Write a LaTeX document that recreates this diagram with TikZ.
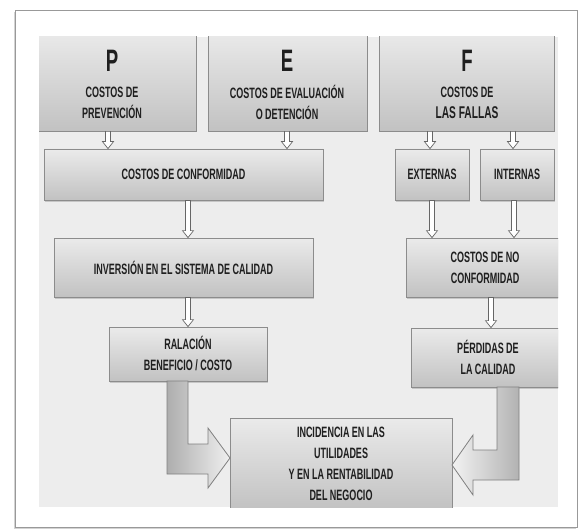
\documentclass[tikz,border=0pt]{standalone}
\usepackage{fontspec}
\newfontfamily\nar[FakeStretch=0.6]{Liberation Sans}
\usetikzlibrary{shadows,calc}
\newcommand\hollowarrow[3]{%
  \draw[hollow] let \p1=(#1,0 |- #2.south), \p2=(#1,0 |- #3.north) in
    (\x1-2.5pt,\y1) -- (\x1-2.5pt,\y2+7pt) -- (\x1-5.5pt,\y2+7pt) -- (\x1,\y2)
    -- (\x1+5.5pt,\y2+7pt) -- (\x1+2.5pt,\y2+7pt) -- (\x1+2.5pt,\y1) -- cycle;}
\begin{document}
\begin{tikzpicture}[x=1pt,y=-1pt,
  txt/.style={font=\nar\bfseries\fontsize{15}{21}\selectfont, text=black!88, align=center, inner sep=0pt},
  big/.style={font=\nar\bfseries\fontsize{31}{31}\selectfont, text=black!88, inner sep=0pt},
  box/.style={txt, draw=black!45, line width=0.8pt, top color=black!8, bottom color=black!24,
    drop shadow={shadow xshift=0.8pt, shadow yshift=-1.5pt, opacity=0.35}},
  hollow/.style={fill=white, draw=black!60, line width=0.7pt, line join=miter},
  bigarrow/.style={draw=black!50, line width=0.8pt, line join=miter}]
\useasboundingbox (0,0) rectangle (581,532);
\draw[draw=black!40, line width=1pt, fill=white,
  drop shadow={shadow xshift=-1.2pt, shadow yshift=-1.5pt, opacity=0.35}] (15,11) rectangle (577,527);
\fill[black!7] (39,37) rectangle (558,507);
\begin{scope}
\clip (39,37) rectangle (558,507);
% top boxes
\node[box, minimum width=161pt, minimum height=101pt] (P) at (115.5,80.5) {};
\node[box, minimum width=159pt, minimum height=101pt] (E) at (287.5,80.5) {};
\node[box, minimum width=175pt, minimum height=101pt] (F) at (466.5,80.5) {};
\node[big] (Pt) at (112,61) {P};
\node[txt] (Pd) at (112,102.5) {COSTOS DE\\PREVENCIÓN};
\node[big] (Et) at (287,61) {E};
\node[txt] (Ed) at (287,102.5) {COSTOS DE EVALUACIÓN\\O DETENCIÓN};
\node[big] (Ft) at (467,61) {F};
\node[txt] (Fd) at (467,102.5) {COSTOS DE\\{\fontsize{17}{21}\selectfont LAS FALLAS}};
% second row
\node[box, minimum width=279pt, minimum height=51pt] (C) at (183.5,174.5) {COSTOS DE CONFORMIDAD};
\node[box, minimum width=74pt, minimum height=51pt] (Ext) at (432,174.5) {EXTERNAS};
\node[box, minimum width=74pt, minimum height=51pt] (Int) at (517,174.5) {INTERNAS};
% third row
\node[box, minimum width=259pt, minimum height=59pt] (Inv) at (183.5,267.5) {INVERSIÓN EN EL SISTEMA DE CALIDAD};
\node[box, minimum width=158pt, minimum height=59pt] (NoC) at (485,267.5) {COSTOS DE NO\\CONFORMIDAD};
% fourth row
\node[box, minimum width=158pt, minimum height=54pt] (Ral) at (188,354) {RALACIÓN\\BENEFICIO / COSTO};
\node[box, minimum width=154pt, minimum height=59pt] (Per) at (488,357.5) {PÉRDIDAS DE\\LA CALIDAD};
% bottom
\node[box, minimum width=222pt, minimum height=91pt] (Inc) at (341,463.5)
  {INCIDENCIA EN LAS\\UTILIDADES\\Y EN LA RENTABILIDAD\\DEL NEGOCIO};
% small hollow arrows
\hollowarrow{108}{P}{C}
\hollowarrow{287}{E}{C}
\hollowarrow{430}{F}{Ext}
\hollowarrow{513}{F}{Int}
\hollowarrow{188}{C}{Inv}
\hollowarrow{188}{Inv}{Ral}
\hollowarrow{432}{Ext}{NoC}
\hollowarrow{514}{Int}{NoC}
\hollowarrow{491}{NoC}{Per}
% big elbow arrows
\draw[bigarrow, left color=black!32, right color=black!6]
  (167,381) -- (188,381) -- (188,444) -- (208,444) -- (208,428) -- (230,458)
  -- (208,488) -- (208,474) -- (167,474) -- cycle;
\draw[bigarrow, left color=black!5, right color=black!30]
  (519,387) -- (497,387) -- (497,450) -- (473,450) -- (473,435) -- (452,465)
  -- (473,495) -- (473,480) -- (519,480) -- cycle;
\end{scope}
\end{tikzpicture}
\end{document}
